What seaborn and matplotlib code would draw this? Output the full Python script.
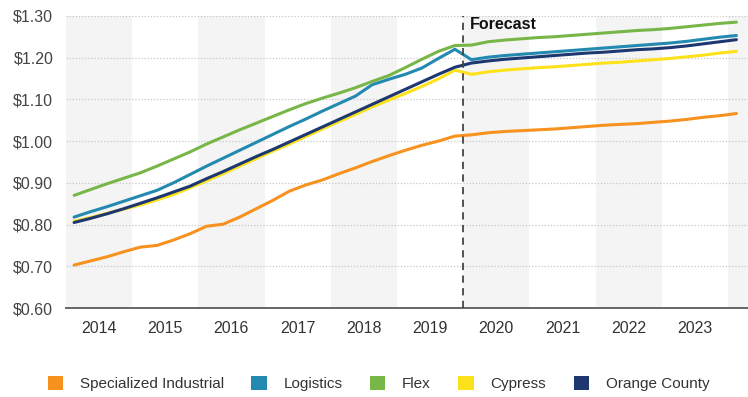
import numpy as np
import pandas as pd
import matplotlib
matplotlib.use("Agg")
import matplotlib.pyplot as plt
from matplotlib.patches import Patch
from matplotlib.ticker import FixedLocator, MultipleLocator
import seaborn as sns

# Quarterly asking rents, 2014 Q1 through 2024 Q1 (41 quarters)
years = [2014, 2015, 2016, 2017, 2018, 2019, 2020, 2021, 2022, 2023]
forecast_start_quarter = 24  # 2020 Q1

specialized_industrial = [
    0.703, 0.713, 0.723, 0.735, 0.746, 0.750, 0.763, 0.778,
    0.796, 0.801, 0.818, 0.838, 0.858, 0.880, 0.895, 0.907,
    0.922, 0.936, 0.951, 0.965, 0.978, 0.990, 1.000, 1.012,
    1.015, 1.020, 1.023, 1.025, 1.027, 1.029, 1.032, 1.035,
    1.038, 1.040, 1.042, 1.045, 1.048, 1.052, 1.057, 1.061,
    1.066,
]
logistics = [
    0.818, 0.831, 0.843, 0.856, 0.869, 0.882, 0.900, 0.920,
    0.940, 0.959, 0.978, 0.997, 1.016, 1.035, 1.053, 1.072,
    1.090, 1.108, 1.135, 1.148, 1.160, 1.175, 1.198, 1.220,
    1.195, 1.201, 1.205, 1.208, 1.211, 1.214, 1.217, 1.220,
    1.223, 1.226, 1.229, 1.232, 1.235, 1.239, 1.244, 1.249,
    1.253,
]
flex = [
    0.870, 0.884, 0.898, 0.911, 0.924, 0.940, 0.957, 0.974,
    0.993, 1.010, 1.027, 1.043, 1.059, 1.075, 1.090, 1.103,
    1.115, 1.128, 1.143, 1.157, 1.176, 1.196, 1.215, 1.229,
    1.230, 1.238, 1.242, 1.245, 1.248, 1.250, 1.253, 1.256,
    1.259, 1.262, 1.265, 1.267, 1.270, 1.274, 1.278, 1.282,
    1.285,
]
cypress = [
    0.808, 0.817, 0.827, 0.837, 0.847, 0.859, 0.872, 0.888,
    0.905, 0.922, 0.940, 0.958, 0.976, 0.993, 1.011, 1.029,
    1.047, 1.064, 1.082, 1.098, 1.114, 1.131, 1.149, 1.170,
    1.160, 1.166, 1.170, 1.173, 1.176, 1.178, 1.181, 1.184,
    1.187, 1.189, 1.192, 1.195, 1.198, 1.202, 1.206, 1.211,
    1.215,
]
orange_county = [
    0.805, 0.815, 0.826, 0.838, 0.851, 0.864, 0.878, 0.892,
    0.910, 0.927, 0.945, 0.963, 0.980, 0.998, 1.016, 1.034,
    1.052, 1.070, 1.088, 1.106, 1.124, 1.142, 1.160, 1.177,
    1.187, 1.192, 1.196, 1.199, 1.202, 1.205, 1.208, 1.211,
    1.213, 1.216, 1.219, 1.221, 1.224, 1.228, 1.233, 1.238,
    1.243,
]

series = {
    "Specialized Industrial": specialized_industrial,
    "Logistics": logistics,
    "Flex": flex,
    "Cypress": cypress,
    "Orange County": orange_county,
}
colors = {
    "Specialized Industrial": "#F7921E",
    "Logistics": "#2389B0",
    "Flex": "#78B648",
    "Cypress": "#FDE21B",
    "Orange County": "#1D3871",
}

n_q = len(flex)
quarter_pos = np.arange(n_q) + 0.5  # centre of each quarter
df = pd.concat(
    [pd.DataFrame({"q": quarter_pos, "rent": v, "market": k}) for k, v in series.items()],
    ignore_index=True,
)

sns.set_style("white")
plt.rcParams["font.family"] = ["Liberation Sans", "DejaVu Sans"]

fig = plt.figure(figsize=(7.48, 3.97), dpi=100)
ax = fig.add_axes([0.088, 0.224, 0.912, 0.736])

# alternating year bands
for i, _ in enumerate(years + [2024]):
    if i % 2 == 0:
        ax.axvspan(i * 4, i * 4 + 4, color="#F4F4F4", zorder=0, lw=0)

sns.lineplot(
    data=df, x="q", y="rent", hue="market", palette=colors,
    hue_order=list(series.keys()),
    linewidth=2.2, legend=False, ax=ax, zorder=3,
)

ax.set_xlim(0, 41.2)
ax.set_ylim(0.60, 1.30)
yt = np.arange(0.60, 1.301, 0.10)
ax.set_yticks(yt)
ax.set_yticklabels([f"${v:.2f}" for v in yt], fontsize=11.5, color="#444444")
ax.yaxis.grid(True, linestyle=(0, (1, 1.5)), color="#C8C8C8", linewidth=0.9)
ax.set_axisbelow(True)
ax.tick_params(axis="y", length=0, pad=9)

# year ticks at boundaries, labels at year centres
ax.xaxis.set_major_locator(FixedLocator(np.arange(0, 44, 4)))
ax.xaxis.set_minor_locator(MultipleLocator(1))
ax.set_xticklabels([])
ax.tick_params(axis="x", which="major", direction="inout", length=11, width=1.4, color="#666666")
ax.tick_params(axis="x", which="minor", direction="in", length=4, width=0.9, color="#777777")
for i, y in enumerate(years):
    ax.text(i * 4 + 2, -0.045, str(y), transform=ax.get_xaxis_transform(),
            ha="center", va="top", fontsize=11.5, color="#333333")

for side in ["top", "right", "left"]:
    ax.spines[side].set_visible(False)
ax.spines["bottom"].set_color("#666666")
ax.spines["bottom"].set_linewidth(1.4)
ax.set_xlabel("")
ax.set_ylabel("")

# forecast divider
ax.axvline(forecast_start_quarter, color="#444444", linestyle=(0, (4, 3)), linewidth=1.3, zorder=4)
ax.text(forecast_start_quarter + 0.4, 1.297, "Forecast", fontsize=11.5, fontweight="bold",
        color="#111111", ha="left", va="top", zorder=5)

handles = [Patch(facecolor=colors[k], edgecolor="none") for k in series]
fig.legend(handles, list(series.keys()), loc="center", bbox_to_anchor=(0.506, 0.033),
           ncol=5, frameon=False, fontsize=11, handlelength=1.0, handleheight=1.0,
           columnspacing=1.8, handletextpad=1.1, labelcolor="#333333")

fig.savefig("out.png", dpi=100)
